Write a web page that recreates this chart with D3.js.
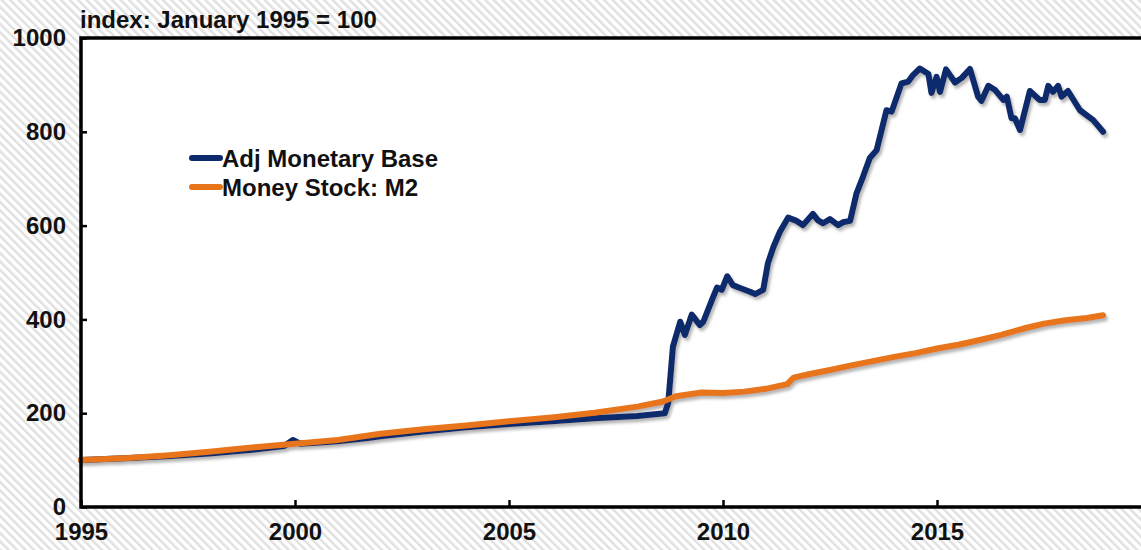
<!DOCTYPE html>
<html>
<head>
<meta charset="utf-8">
<script src="https://cdn.jsdelivr.net/npm/d3@7"></script>
<style>
  body { margin: 0; background: #fff; }
  svg { display: block; font-family: "Liberation Sans", Arial, sans-serif; }
</style>
</head>
<body>
<div id="chart"></div>
<script>
// readings (decimal year, index Jan 1995 = 100)
const baseYears = [1995.0, 1996.0, 1997.0, 1998.0, 1999.0, 1999.75, 1999.95, 2000.12, 2000.5, 2001.0, 2001.7, 2002.0, 2003.0, 2004.0, 2005.0, 2006.0, 2007.0, 2008.0, 2008.64,
  2008.72, 2008.83, 2009.0, 2009.11, 2009.27, 2009.46, 2009.54, 2009.74, 2009.86, 2009.97, 2010.1, 2010.23, 2010.4, 2010.63, 2010.75, 2010.94,
  2011.05, 2011.18, 2011.33, 2011.52, 2011.72, 2011.87, 2012.1, 2012.22, 2012.34, 2012.5, 2012.69, 2012.8, 2012.97,
  2013.12, 2013.27, 2013.43, 2013.59, 2013.82, 2013.94, 2014.17, 2014.33, 2014.44, 2014.6, 2014.8, 2014.87, 2014.99, 2015.07, 2015.21,
  2015.42, 2015.58, 2015.77, 2015.96, 2016.04, 2016.2, 2016.36, 2016.55, 2016.63, 2016.74, 2016.82, 2016.94, 2017.17, 2017.4, 2017.52,
  2017.6, 2017.71, 2017.83, 2017.91, 2018.06, 2018.34, 2018.65, 2018.88];
const baseValues = [100, 104, 108, 114, 122, 130, 143, 135, 137, 140, 147, 151, 161, 170, 177, 183, 189, 194, 200,
  222, 342, 395, 367, 410, 388, 395, 441, 468, 463, 492, 473, 467, 459, 454, 463,
  520, 555, 587, 617, 610, 601, 625, 611, 605, 614, 601, 607, 610,
  669, 704, 744, 761, 846, 843, 903, 907, 921, 935, 923, 883, 917, 885, 933,
  905, 915, 934, 875, 866, 898, 889, 868, 875, 829, 829, 804, 887, 868, 868,
  898, 885, 898, 875, 887, 846, 825, 800];

const m2Years = [1995.0, 1996.0, 1997.0, 1998.0, 1999.0, 2000.0, 2001.0, 2002.0, 2003.0, 2004.0, 2005.0, 2006.0, 2007.0, 2008.0, 2008.6,
  2008.9, 2009.5, 2010.0, 2010.5, 2011.0, 2011.5, 2011.65, 2012.0, 2012.5, 2013.0, 2013.5, 2014.0, 2014.5, 2015.0, 2015.5,
  2016.0, 2016.5, 2017.0, 2017.5, 2018.0, 2018.5, 2018.88];
const m2Values = [100, 104, 110, 118, 127, 135, 143, 156, 166, 174, 183, 191, 201, 214, 225,
  236, 244, 243, 246, 252, 262, 276, 283, 292, 302, 311, 320, 328, 338, 346,
  356, 367, 380, 391, 398, 403, 409];

const xTicks = [1995, 2000, 2005, 2010, 2015];
const yTicks = [0, 200, 400, 600, 800, 1000];
const seriesNames = ["Adj Monetary Base", "Money Stock: M2"];
const seriesColors = ["#0c2a6c", "#e8741a"];

const width = 1141, height = 550;
const fontSize = 24;
const svg = d3.select("#chart").append("svg").attr("width", width).attr("height", height);
const defs = svg.append("defs");

// diagonal hatching behind the plot
const pat = defs.append("pattern")
  .attr("id", "hatch").attr("patternUnits", "userSpaceOnUse")
  .attr("width", 6).attr("height", 6)
  .attr("patternTransform", "rotate(-45)");
pat.append("rect").attr("width", 6).attr("height", 6).attr("fill", "#ffffff");
pat.append("rect").attr("width", 2.4).attr("height", 6).attr("fill", "#e0e0e0");

const shadow = defs.append("filter").attr("id", "shadow")
  .attr("x", "-5%").attr("y", "-5%").attr("width", "110%").attr("height", "110%");
shadow.append("feDropShadow").attr("dx", 2).attr("dy", 3).attr("stdDeviation", 1.5)
  .attr("flood-color", "#777").attr("flood-opacity", 0.55);

svg.append("rect").attr("width", width).attr("height", height).attr("fill", "url(#hatch)");

const x = d3.scaleLinear().domain([1995, 2020]).range([81, 1151]);
const y = d3.scaleLinear().domain([0, 1000]).range([507, 38]);

svg.append("rect")
  .attr("x", x(1995)).attr("y", y(1000))
  .attr("width", x(2020) - x(1995)).attr("height", y(0) - y(1000))
  .attr("fill", "#fff");

// lines
const line = d3.line().x(d => x(d[0])).y(d => y(d[1]));
const series = [
  d3.zip(baseYears, baseValues),
  d3.zip(m2Years, m2Values)
];
svg.append("g").attr("filter", "url(#shadow)")
  .selectAll("path")
  .data(series)
  .join("path")
  .attr("d", line)
  .attr("fill", "none")
  .attr("stroke", (d, i) => seriesColors[i])
  .attr("stroke-width", 6)
  .attr("stroke-linejoin", "round")
  .attr("stroke-linecap", "round");

// axes, ticks pointing inward
const yAxis = svg.append("g")
  .attr("transform", `translate(${x(1995)},0)`)
  .call(d3.axisLeft(y).tickValues(yTicks).tickFormat(d3.format("d"))
    .tickSizeInner(-6).tickSizeOuter(0).tickPadding(15));
yAxis.select(".domain").remove();
yAxis.attr("font-size", fontSize).attr("font-family", "Liberation Sans, Arial, sans-serif").attr("font-weight", "bold");
yAxis.selectAll("line").attr("stroke", "#000").attr("stroke-width", 2.5);
yAxis.selectAll("text").attr("fill", "#111");

const xAxis = svg.append("g")
  .attr("transform", `translate(0,${y(0)})`)
  .call(d3.axisBottom(x).tickValues(xTicks).tickFormat(d3.format("d"))
    .tickSizeInner(-7).tickSizeOuter(0).tickPadding(16));
xAxis.select(".domain").remove();
xAxis.attr("font-size", fontSize).attr("font-family", "Liberation Sans, Arial, sans-serif").attr("font-weight", "bold");
xAxis.selectAll("line").attr("stroke", "#000").attr("stroke-width", 2.5);
xAxis.selectAll("text").attr("fill", "#111");

// frame
svg.append("path")
  .attr("d", `M${x(2020)},${y(1000)}H${x(1995)}V${y(0)}H${x(2020)}`)
  .attr("fill", "none").attr("stroke", "#000").attr("stroke-width", 3.5);

svg.append("text")
  .attr("x", 80).attr("y", 28)
  .attr("font-size", fontSize).attr("font-weight", "bold").attr("fill", "#111")
  .text("index: January 1995 = 100");

// legend
const legend = svg.append("g").attr("transform", "translate(190,158)");
const item = legend.selectAll("g").data(seriesNames).join("g")
  .attr("transform", (d, i) => `translate(0,${i * 29})`);
item.append("line")
  .attr("x1", 2).attr("x2", 30)
  .attr("stroke", (d, i) => seriesColors[i])
  .attr("stroke-width", 6).attr("stroke-linecap", "round");
item.append("text")
  .attr("x", 32).attr("dy", "0.36em")
  .attr("font-size", fontSize).attr("font-weight", "bold").attr("fill", "#111")
  .text(d => d);
</script>
</body>
</html>
